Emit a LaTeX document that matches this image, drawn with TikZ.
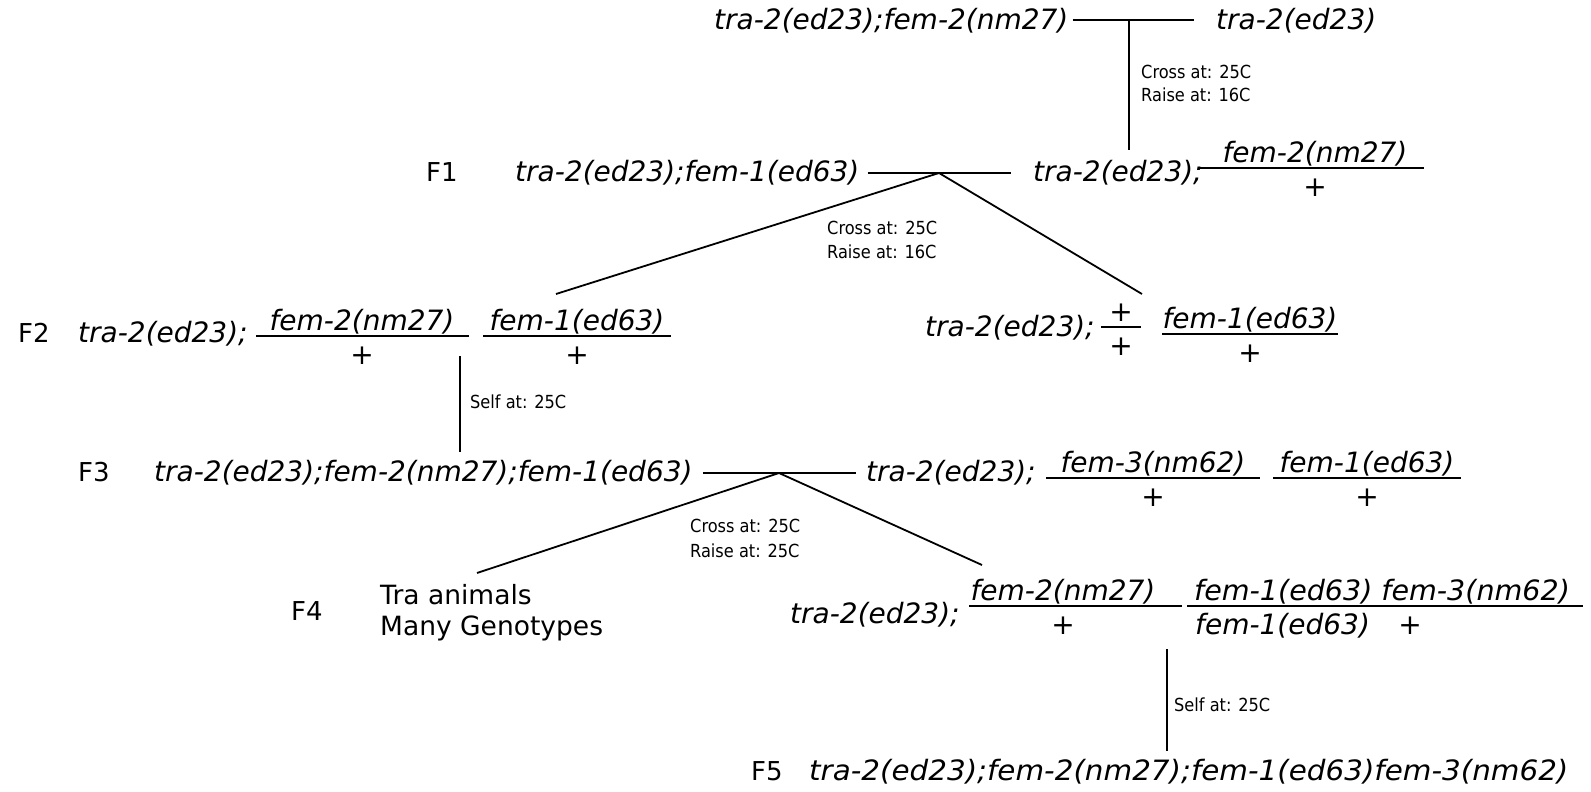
\documentclass[tikz,border=0pt]{standalone}
\usepackage{fontspec}
\setmainfont{DejaVu Sans}
\newfontfamily\notefont{DejaVu Sans Condensed}
\begin{document}
\newcommand\gsz{\fontsize{28}{32}\selectfont}
\newcommand\frc[7]{% name, text centre x, bar left, bar right, bar y, numerator, denominator
  \node[gt, anchor=base] (#1n) at (#2,#5-6) {#6};
  \node[gt, anchor=base] (#1d) at (#2,#5+28) {#7};
  \draw[bar] (#3,#5) -- (#4,#5);
}
\begin{tikzpicture}[x=1pt,y=-1pt,
  gt/.style={font=\gsz\itshape, inner sep=0pt},
  gtw/.style={gt, anchor=base west},
  lab/.style={font=\fontsize{26}{30}\selectfont, inner sep=0pt, anchor=base west},
  note/.style={font=\notefont\fontsize{18}{22}\selectfont, inner sep=0pt, anchor=base west},
  ln/.style={line width=1.8pt},
  bar/.style={line width=1.8pt}]
\fill[white] (0,0) rectangle (1591,792);
\useasboundingbox (0,0) rectangle (1591,792);

% ---- P0
\node[gtw] (p0a) at (714,30) {tra-2(ed23);fem-2(nm27)};
\node[gtw] (p0b) at (1216,30) {tra-2(ed23)};
\coordinate (j0) at (1129,20);
\draw[ln] ([xshift=4pt]p0a.east |- j0) -- ([xshift=-22pt]p0b.west |- j0);
\node[note] (n0a) at (1141,78) {Cross at: 25C};
\node[note] (n0b) at (1141,102) {Raise at: 16C};

% ---- F1
\node[lab] (F1) at (426,181) {F1};
\node[gtw] (p1a) at (515,181) {tra-2(ed23);fem-1(ed63)};
\node[gtw] (p1b) at (1033,181) {tra-2(ed23);};
\frc{f1a}{1315}{1198}{1424}{168}{fem-2(nm27)}{\upshape +}
\draw[ln] (j0) -- ([yshift=10pt]p1b.north -| j0);
\coordinate (j1) at (939,173);
\draw[ln] ([xshift=8pt]p1a.east |- j1) -- ([xshift=-22pt]p1b.west |- j1);
\node[note] (n1a) at (827,234) {Cross at: 25C};
\node[note] (n1b) at (827,258) {Raise at: 16C};

% ---- F2
\node[lab] (F2) at (18,342) {F2};
\node[gtw] (p2a) at (78,342) {tra-2(ed23);};
\frc{f2a}{362}{256}{469}{336}{fem-2(nm27)}{\upshape +}
\frc{f2b}{577}{483}{671}{336}{fem-1(ed63)}{\upshape +}
\node[gtw] (p2c) at (925,336) {tra-2(ed23);};
\frc{f2c}{1121}{1101}{1141}{327}{\upshape +}{\upshape +}
\frc{f2d}{1250}{1162}{1338}{334}{fem-1(ed63)}{\upshape +}
\coordinate (e2a) at (556,294);
\coordinate (e2b) at (1142,294);
\draw[ln] (j1) -- (e2a);
\draw[ln] (j1) -- (e2b);

% ---- F2 -> F3
\coordinate (v2) at (460,356);
\node[note] (n2) at (470,408) {Self at: 25C};

% ---- F3
\node[lab] (F3) at (78,481) {F3};
\node[gtw] (p3a) at (154,481) {tra-2(ed23);fem-2(nm27);fem-1(ed63)};
\draw[ln] (v2) -- ([yshift=8pt]p3a.north -| v2);
\node[gtw] (p3b) at (866,481) {tra-2(ed23);};
\frc{f3a}{1153}{1046}{1260}{478}{fem-3(nm62)}{\upshape +}
\frc{f3b}{1367}{1273}{1461}{478}{fem-1(ed63)}{\upshape +}
\coordinate (j3) at (779,473);
\draw[ln] ([xshift=10pt]p3a.east |- j3) -- ([xshift=-10pt]p3b.west |- j3);
\node[note] (n3a) at (690,532) {Cross at: 25C};
\node[note] (n3b) at (690,557) {Raise at: 25C};

% ---- F4
\node[lab] (F4) at (291,620) {F4};
\node[lab, align=left, anchor=north west, font=\fontsize{26.5}{31}\selectfont] (p4a) at (380,584) {Tra animals\\Many Genotypes};
\node[gtw] (p4b) at (790,623) {tra-2(ed23);};
\frc{f4a}{1063}{969}{1182}{606}{fem-2(nm27)}{\upshape +}
\node[gtw] (f4bn) at (1194,600) {\scalebox{1.02}[1]{fem-1(ed63) fem-3(nm62)}};
\node[gtw] (f4bd1) at (1195,634) {fem-1(ed63)};
\node[gt, anchor=base] (f4bd2) at (1410,634) {\upshape +};
\draw[bar] (1187,606) -- (1583,606);
\coordinate (e4a) at (477,573);
\coordinate (e4b) at (982,565);
\draw[ln] (j3) -- (e4a);
\draw[ln] (j3) -- (e4b);

% ---- F4 -> F5
\coordinate (v4) at (1167,649);
\node[note] (n4) at (1174,711) {Self at: 25C};

% ---- F5
\node[lab] (F5) at (751,780) {F5};
\node[gtw] (p5) at (809,780) {\scalebox{1.05}[1]{tra-2(ed23);fem-2(nm27);fem-1(ed63)fem-3(nm62)}};
\draw[ln] (v4) -- ([yshift=8pt]p5.north -| v4);
\end{tikzpicture}
\end{document}
